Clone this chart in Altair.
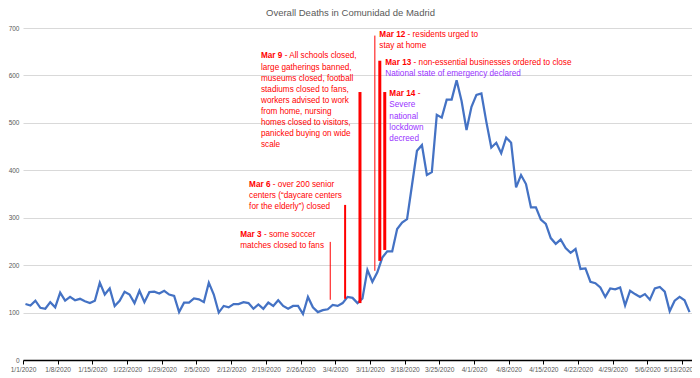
import altair as alt
import pandas as pd

# ---------------- data ----------------
start_date = "2020-01-01"
deaths = [
    118, 115, 125, 110, 108, 122, 111, 142, 125, 133, 126, 129, 124, 120, 125,
    163, 138, 151, 114, 125, 144, 138, 120, 146, 122, 143, 144, 140, 146, 138, 135,
    101, 121, 121, 130, 128, 122, 163, 138, 100, 114, 111, 118, 118, 122, 120,
    108, 117, 108, 121, 114, 126, 114, 108, 114, 114, 97, 133, 111, 101,
    105, 107, 116, 114, 120, 133, 131, 120, 130, 190, 165, 185, 216, 229, 229,
    276, 290, 297, 369, 441, 453, 390, 396, 517, 511, 549, 549, 590, 546, 485, 534,
    559, 562, 502, 448, 458, 436, 469, 458, 364, 390, 371, 322, 322, 296, 287,
    257, 245, 254, 236, 226, 234, 192, 193, 165, 162, 153, 133, 151, 149, 153,
    115, 146, 139, 133, 139, 127, 151, 154, 144, 103, 125, 133, 126, 101,
]
tick_dates = ["2020-01-01", "2020-01-08", "2020-01-15", "2020-01-22", "2020-01-29",
              "2020-02-05", "2020-02-12", "2020-02-19", "2020-02-26", "2020-03-04",
              "2020-03-11", "2020-03-18", "2020-03-25", "2020-04-01", "2020-04-08",
              "2020-04-15", "2020-04-22", "2020-04-29", "2020-05-06", "2020-05-13"]
y_ticks = [0, 100, 200, 300, 400, 500, 600, 700]

events = ["Mar 3", "Mar 6", "Mar 9", "Mar 12", "Mar 13", "Mar 14"]
event_dates = ["2020-03-03", "2020-03-06", "2020-03-09", "2020-03-12", "2020-03-13", "2020-03-14"]
marker_low = [127, 129, 120, 188, 209, 232]
marker_high = [249, 327, 565, 684, 631, 565]

event_text = {
    "Mar 3": [("- some soccer", "r"), ("matches closed to fans", "r")],
    "Mar 6": [("- over 200 senior", "r"), ("centers (\u201cdaycare centers", "r"),
              ("for the elderly\u201d) closed", "r")],
    "Mar 9": [("- All schools closed,", "r"), ("large gatherings banned,", "r"),
              ("museums closed, football", "r"), ("stadiums closed to fans,", "r"),
              ("workers advised to work", "r"), ("from home, nursing", "r"),
              ("homes closed to visitors,", "r"), ("panicked buying on wide", "r"),
              ("scale", "r")],
    "Mar 12": [("- residents urged to", "r"), ("stay at home", "r")],
    "Mar 13": [("- non-essential businesses ordered to close", "r"),
               ("National state of emergency declared", "p")],
    "Mar 14": [("-", "r"), ("Severe", "p"), ("national", "p"), ("lockdown", "p"),
               ("decreed", "p")],
}

# ---------------- layout / style ----------------
FONT = "Liberation Sans"
RED = "#FF0000"
PURPLE = "#9933FF"
BLUE = "#4472C4"
GREY = "#595959"
PLOT_W, PLOT_H = 669, 332
N_DAYS = 135
PX_PER_DAY = PLOT_W / N_DAYS
marker_width = {"Mar 3": 1, "Mar 6": 2, "Mar 9": 3, "Mar 12": 1, "Mar 13": 3, "Mar 14": 3}
block_dx = {"Mar 3": -90, "Mar 6": -96, "Mar 9": -99, "Mar 12": 4.5, "Mar 13": 5.5, "Mar 14": 4.6}
block_top = {"Mar 3": 264.6, "Mar 6": 369, "Mar 9": 640, "Mar 12": 685, "Mar 13": 626, "Mar 14": 560}
LINE_STEP = 23.4  # one text line, in deaths units
FS = 8.2

df = pd.DataFrame({
    "date": pd.date_range(start_date, periods=len(deaths), freq="D") + pd.Timedelta(hours=12),
    "deaths": deaths,
})

rules_df = pd.DataFrame({
    "event": events,
    "date": pd.to_datetime(event_dates),
    "low": marker_low,
    "high": marker_high,
    "w": [marker_width[e] for e in events],
})


def bold_width(s):
    w = {"M": 0.833, "a": 0.556, "r": 0.389, " ": 0.278}
    return sum(w.get(c, 0.556) for c in s) * FS


def shift(d, px):
    return pd.Timestamp(d) + pd.Timedelta(days=px / PX_PER_DAY)


bold_rows, text_rows = [], []
for e, d in zip(events, event_dates):
    top = block_top[e]
    bold_rows.append({"x": shift(d, block_dx[e]), "v": top, "t": e})
    for i, (t, c) in enumerate(event_text[e]):
        dx = block_dx[e] + (bold_width(e) + 2.3 if i == 0 else 0)
        text_rows.append({"x": shift(d, dx), "v": top - i * LINE_STEP, "t": t,
                          "c": RED if c == "r" else PURPLE})

x_scale = alt.Scale(domain=[alt.DateTime(year=2020, month=1, date=1),
                            alt.DateTime(year=2020, month=5, date=15)])
y_scale = alt.Scale(domain=[0, 700])

tick_vals = [alt.DateTime(year=int(s[:4]), month=int(s[5:7]), date=int(s[8:])) for s in tick_dates]

# keep the last date label inside the page edge
last_label_offset = {"condition": {"test": "datum.value > datetime(2020, 4, 10)", "value": -4},
                     "value": 0}

x_axis = alt.Axis(values=tick_vals, format="%-m/%-d/%Y", labelAngle=0,
                  grid=False, domainColor="#000000", domainWidth=1.5,
                  tickColor="#000000", tickSize=4, tickWidth=1,
                  labelFont=FONT, labelFontSize=6.6, labelColor=GREY,
                  labelPadding=2, labelOverlap=False, labelBound=False,
                  labelFlush=False, labelOffset=last_label_offset)
y_axis = alt.Axis(values=y_ticks, grid=True, gridColor="#D9D9D9", gridWidth=1,
                  domain=False, ticks=False, labelFont=FONT, labelFontSize=6.5,
                  labelColor=GREY, labelPadding=4)

line = alt.Chart(df).mark_line(color=BLUE, strokeWidth=2.25).encode(
    x=alt.X("date:T", scale=x_scale, title=None, axis=x_axis),
    y=alt.Y("deaths:Q", scale=y_scale, title=None, axis=y_axis),
)

rules = alt.Chart(rules_df).mark_rule(color=RED).encode(
    x=alt.X("date:T", scale=x_scale, title=None, axis=x_axis),
    y=alt.Y("low:Q", scale=y_scale, title=None, axis=y_axis),
    y2="high:Q",
    strokeWidth=alt.StrokeWidth("w:Q", scale=None),
)

bold_text = alt.Chart(pd.DataFrame(bold_rows)).mark_text(
    align="left", baseline="middle", font=FONT, fontSize=FS, fontWeight="bold", color=RED
).encode(
    x=alt.X("x:T", scale=x_scale, title=None, axis=x_axis),
    y=alt.Y("v:Q", scale=y_scale, title=None, axis=y_axis),
    text="t:N",
)

plain_text = alt.Chart(pd.DataFrame(text_rows)).mark_text(
    align="left", baseline="middle", font=FONT, fontSize=FS
).encode(
    x=alt.X("x:T", scale=x_scale, title=None, axis=x_axis),
    y=alt.Y("v:Q", scale=y_scale, title=None, axis=y_axis),
    text="t:N",
    color=alt.Color("c:N", scale=None),
)

chart = alt.layer(line, rules, bold_text, plain_text).properties(
    width=PLOT_W, height=PLOT_H,
    autosize="none",
    padding={"left": 15, "top": 20, "right": 0, "bottom": 20},
    title=alt.TitleParams("Overall Deaths in Comunidad de Madrid", font=FONT, fontSize=9.5,
                          fontWeight="normal", color=GREY, anchor="middle", offset=7.7, dx=-7),
).configure_view(stroke=None).configure_axisX(labelOverlap=False)

chart.save("out.html", embed_options={"renderer": "svg", "actions": False})
